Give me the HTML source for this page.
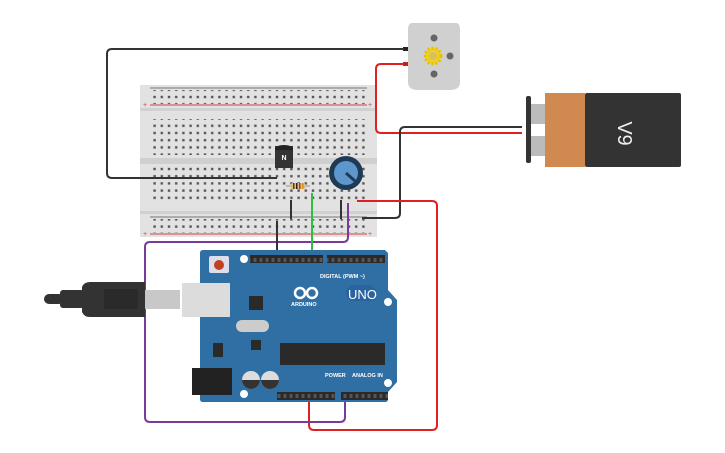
<!DOCTYPE html>
<html><head><meta charset="utf-8"><style>
html,body{margin:0;padding:0;background:#fff;width:725px;height:453px;overflow:hidden}
svg{display:block;font-family:"Liberation Sans",sans-serif}
</style></head><body>
<svg width="725" height="453" viewBox="0 0 725 453">
<defs>
<pattern id="holes" x="0" y="0" width="7.2" height="7.2" patternUnits="userSpaceOnUse">
<rect x="2.2" y="2.2" width="2.4" height="2.4" fill="#555"/>
</pattern>
<pattern id="hdr" x="0" y="0" width="6" height="8" patternUnits="userSpaceOnUse">
<rect width="6" height="8" fill="#2a2a2a"/><rect x="1.5" y="2" width="3" height="4" fill="#555"/>
</pattern>
</defs>

<rect x="140" y="85" width="237" height="152" fill="#e2e2e2"/>
<rect x="140" y="108" width="237" height="3" fill="#d0d0d0"/>
<rect x="140" y="158" width="237" height="6" fill="#cfcfcf"/>
<rect x="140" y="211" width="237" height="3" fill="#d0d0d0"/>
<line x1="150" y1="88" x2="367" y2="88" stroke="#777" stroke-width="1"/>
<line x1="150" y1="105" x2="367" y2="105" stroke="#c44" stroke-width="1"/>
<line x1="150" y1="217" x2="367" y2="217" stroke="#777" stroke-width="1"/>
<line x1="150" y1="234" x2="367" y2="234" stroke="#c44" stroke-width="1"/>
<rect x="150" y="90" width="216" height="14" fill="url(#holes)"/>
<rect x="150" y="119" width="216" height="36" fill="url(#holes)"/>
<rect x="150" y="167" width="216" height="36" fill="url(#holes)"/>
<rect x="150" y="219" width="216" height="14" fill="url(#holes)"/>
<text x="143" y="107" font-size="7" fill="#c44">+</text>
<text x="368" y="107" font-size="7" fill="#c44">+</text>
<text x="143" y="236" font-size="7" fill="#c44">+</text>
<text x="368" y="236" font-size="7" fill="#c44">+</text>

<path d="M412 23 H456 Q460 23 460 30 V82 Q460 90 450 90 H418 Q408 90 408 82 V30 Q408 23 412 23Z" fill="#d0d0d0"/>
<circle cx="434" cy="38" r="3.5" fill="#666"/>
<circle cx="434" cy="74" r="3.5" fill="#666"/>
<circle cx="450" cy="56" r="3.5" fill="#666"/>
<circle cx="433" cy="56" r="8" fill="#f0d020" stroke="#e8c000" stroke-width="3" stroke-dasharray="2 2"/>
<circle cx="433" cy="56" r="4" fill="#d8c060"/>
<rect x="403" y="47" width="5" height="4" fill="#222"/>
<rect x="403" y="62" width="5" height="4" fill="#b22"/>

<rect x="526" y="96" width="5" height="67" rx="2" fill="#333"/>
<rect x="531" y="104" width="14" height="20" fill="#bbb"/>
<rect x="531" y="136" width="14" height="20" fill="#bbb"/>
<rect x="545" y="93" width="40" height="74" fill="#d08a50"/>
<rect x="585" y="93" width="96" height="74" rx="2" fill="#333"/>
<text x="0" y="0" font-size="20" fill="#eee" transform="translate(618,128) rotate(90)" text-anchor="middle">V</text>
<text x="0" y="0" font-size="20" fill="#eee" transform="translate(618,140) rotate(90)" text-anchor="middle">9</text>

<g fill="none" stroke-width="2" stroke-linejoin="round">
<path d="M404 49 H112 Q107 49 107 54 V173 Q107 178 112 178 H277" stroke="#333"/>
<path d="M404 64 H381 Q376 64 376 69 V128 Q376 133 381 133 H522" stroke="#e02020"/>
<path d="M522 127 H405 Q400 127 400 132 V213 Q400 218 395 218 H362" stroke="#333"/>
<path d="M357 201 H432 Q437 201 437 206 V425 Q437 430 432 430 H314 Q309 430 309 425 V392" stroke="#e02020"/>
<path d="M348 203 V237 Q348 242 343 242 H150 Q145 242 145 247 V417 Q145 422 150 422 H340 Q345 422 345 417 V392" stroke="#7a3a9a"/>
<path d="M277 221 V256" stroke="#333"/>
<path d="M291 200 V219" stroke="#333"/>
<path d="M341 200 V219" stroke="#333"/>
<path d="M312 193 V257" stroke="#30c040"/>
</g>

<path d="M275 146 H293 V168 H275Z" fill="#333"/>
<path d="M275 150 Q275 145 284 145 Q293 145 293 150Z" fill="#222"/>
<text x="284" y="160" font-size="7" font-weight="bold" fill="#fff" text-anchor="middle">N</text>
<line x1="286" y1="186" x2="310" y2="186" stroke="#aaa" stroke-width="1.5"/>
<rect x="290" y="183" width="16" height="6" rx="3" fill="#e0c080"/>
<rect x="293" y="183" width="1.5" height="6" fill="#633"/>
<rect x="296" y="183" width="1.5" height="6" fill="#222"/>
<rect x="299" y="183" width="1.5" height="6" fill="#d22"/>
<rect x="302" y="183" width="1.5" height="6" fill="#c90"/>
<circle cx="346" cy="173" r="17" fill="#1f3a55"/>
<circle cx="346" cy="173" r="12" fill="#5d97cc"/>
<line x1="346" y1="173" x2="355" y2="181" stroke="#1f3a55" stroke-width="3"/>

<rect x="44" y="294" width="20" height="10" rx="5" fill="#333"/>
<rect x="60" y="290" width="24" height="18" rx="3" fill="#333"/>
<path d="M82 287 Q84 282 90 282 H145 V317 H90 Q84 317 82 312Z" fill="#333"/>
<rect x="104" y="289" width="34" height="20" fill="#2a2a2a"/>
<rect x="145" y="290" width="35" height="19" fill="#c8c8c8"/>

<path d="M200 253 Q200 250 203 250 H385 L388 253 V290 L397 300 V382 L388 392 V399 Q388 402 385 402 H203 Q200 402 200 399Z" fill="#2f6fa3"/>
<rect x="182" y="283" width="48" height="34" fill="#dcdcdc"/>
<rect x="209" y="256" width="20" height="17" rx="2" fill="#dde"/>
<circle cx="219" cy="265" r="5" fill="#c04020"/>
<circle cx="244" cy="259" r="4" fill="#fff"/>
<circle cx="388" cy="302" r="4" fill="#fff"/>
<circle cx="388" cy="383" r="4" fill="#fff"/>
<circle cx="244" cy="394" r="4" fill="#fff"/>
<rect x="250" y="255" width="73" height="8" fill="url(#hdr)"/>
<rect x="327" y="255" width="58" height="8" fill="url(#hdr)"/>
<rect x="277" y="392" width="58" height="8" fill="url(#hdr)"/>
<rect x="341" y="392" width="47" height="8" fill="url(#hdr)"/>
<text x="320" y="278" font-size="5.5" fill="#fff" font-weight="bold">DIGITAL (PWM ~)</text>
<text x="325" y="377" font-size="5.5" fill="#fff" font-weight="bold">POWER</text>
<text x="352" y="377" font-size="5.5" fill="#fff" font-weight="bold">ANALOG IN</text>
<circle cx="300" cy="293" r="5" fill="none" stroke="#fff" stroke-width="2.5"/>
<circle cx="312" cy="293" r="5" fill="none" stroke="#fff" stroke-width="2.5"/>
<text x="291" y="306" font-size="5.5" fill="#fff" font-weight="bold">ARDUINO</text>
<rect x="346" y="285" width="30" height="16" rx="8" fill="#2a64a0"/>
<text x="348" y="299" font-size="13" fill="#fff">UNO</text>
<rect x="249" y="296" width="14" height="14" fill="#2a2a2a"/>
<rect x="236" y="320" width="33" height="12" rx="6" fill="#ccc"/>
<rect x="280" y="343" width="105" height="22" fill="#2a2a2a"/>
<rect x="251" y="340" width="10" height="10" fill="#2a2a2a"/>
<rect x="213" y="343" width="10" height="14" fill="#2a2a2a"/>
<rect x="192" y="368" width="40" height="27" fill="#222"/>
<circle cx="251" cy="380" r="9" fill="#ddd"/>
<path d="M242 380 A9 9 0 0 0 260 380Z" fill="#333"/>
<circle cx="270" cy="380" r="9" fill="#ddd"/>
<path d="M261 380 A9 9 0 0 0 279 380Z" fill="#333"/>
</svg>
</body></html>
